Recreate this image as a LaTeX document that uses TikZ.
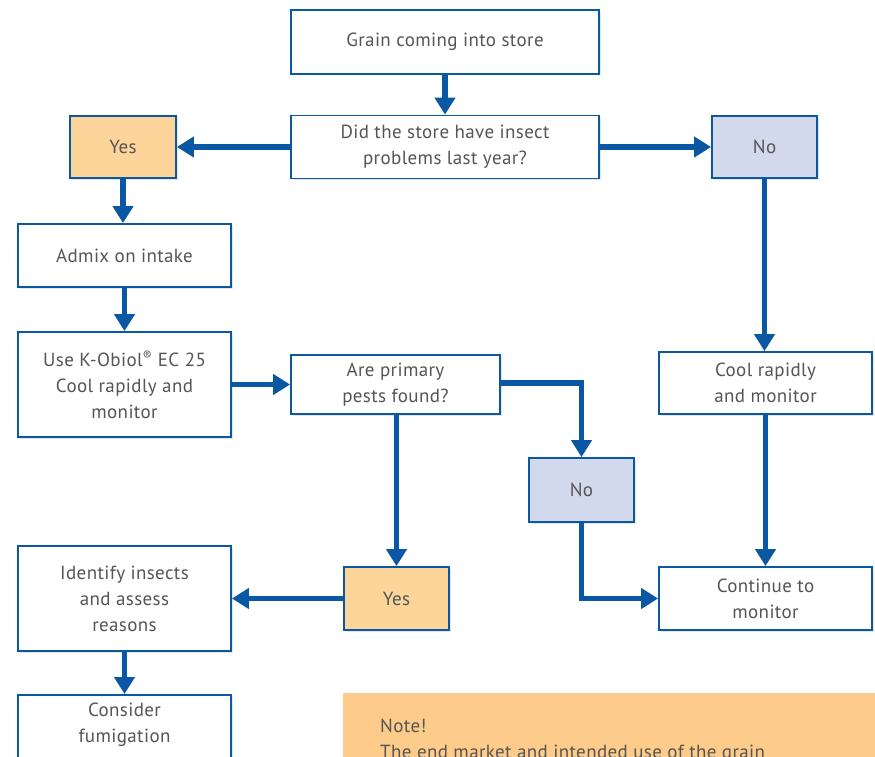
\documentclass[tikz,border=0pt]{standalone}
\usepackage{fontspec}
\setmainfont{PT Sans}[LetterSpace=2]
\usetikzlibrary{arrows.meta,shadows}
\definecolor{flowblue}{HTML}{0A57A3}
\definecolor{txtgray}{HTML}{555555}
\definecolor{yesfill}{HTML}{FDD49A}
\definecolor{nofill}{HTML}{D2D9EC}
\definecolor{notefill}{HTML}{FDCB8A}
\begin{document}
\begin{tikzpicture}[x=1pt,y=-1pt,
  box/.style={draw=flowblue,line width=1.8pt,fill=white,align=center,
    text=txtgray,font=\fontsize{19}{26}\selectfont,inner sep=0pt,
    drop shadow={opacity=0.2,shadow xshift=1.5pt,shadow yshift=-1.5pt}},
  yesbox/.style={box,fill=yesfill},
  nobox/.style={box,fill=nofill},
  flow/.style={draw=flowblue,line width=5.5pt,
    -{Triangle[width=20pt,length=17pt]}}]
\useasboundingbox (0,0) rectangle (875,757);
\begin{scope}
\clip (0,0) rectangle (875,757);
% boxes
\node[box,minimum width=308pt,minimum height=64pt] (grain) at (445,42) {Grain coming into store};
\node[box,minimum width=308pt,minimum height=63pt] (did) at (445,147) {Did the store have insect\\problems last year?};
\node[yesbox,minimum width=106pt,minimum height=62pt] (yes1) at (123,147) {Yes};
\node[nobox,minimum width=105pt,minimum height=62pt] (no1) at (764.5,147) {No};
\node[box,minimum width=213pt,minimum height=63pt] (admix) at (124.5,255.5) {Admix on intake};
\node[box,minimum width=213pt,minimum height=105pt] (use) at (124.5,384.5) {Use K-Obiol\textsuperscript{®} EC 25\\Cool rapidly and\\monitor};
\node[box,minimum width=209pt,minimum height=59pt] (are) at (395.5,384.5) {Are primary\\pests found?};
\node[box,minimum width=213pt,minimum height=62pt] (cool) at (765.5,383) {Cool rapidly\\and monitor};
\node[nobox,minimum width=105pt,minimum height=64pt] (no2) at (581.5,490) {No};
\node[box,minimum width=213pt,minimum height=105pt] (ident) at (124.5,598.5) {Identify insects\\and assess\\reasons};
\node[yesbox,minimum width=105pt,minimum height=63pt] (yes2) at (396.5,598.5) {Yes};
\node[box,minimum width=213pt,minimum height=63pt] (cont) at (765.5,598.5) {Continue to\\monitor};
\node[box,minimum width=213pt,minimum height=100pt,anchor=north] (consider) at (124.5,694) {};
\node[text=txtgray,font=\fontsize{19}{26}\selectfont,align=center,anchor=north,inner sep=0pt] (considertxt) at (124.5,703) {Consider\\fumigation};
\node[fill=notefill,minimum width=532pt,minimum height=100pt,anchor=north west,inner sep=0pt] (note) at (343,693) {};
\node[text=txtgray,font=\fontsize{19}{26}\selectfont,align=left,anchor=north west,inner sep=0pt] (notetxt) at (380,719) {Note!\\The end market and intended use of the grain};
% connectors
\draw[flow] (grain.south) -- (did.north);
\draw[flow] (did.west) -- (yes1.east);
\draw[flow] (did.east) -- (no1.west);
\draw[flow] (yes1.south) -- (yes1.south |- admix.north);
\draw[flow] (admix.south) -- (use.north);
\draw[flow] (use.east |- are.west) -- (are.west);
\draw[flow] (are.east |- 0,383) -| (no2.north);
\draw[flow] (no2.south) |- (cont.west);
\draw[flow] (are.south -| yes2.north) -- (yes2.north);
\draw[flow] (yes2.west) -- (ident.east);
\draw[flow] (ident.south) -- (consider.north);
\draw[flow] (no1.south) -- (no1.south |- cool.north);
\draw[flow] (cool.south) -- (cont.north);
\end{scope}
\end{tikzpicture}
\end{document}
